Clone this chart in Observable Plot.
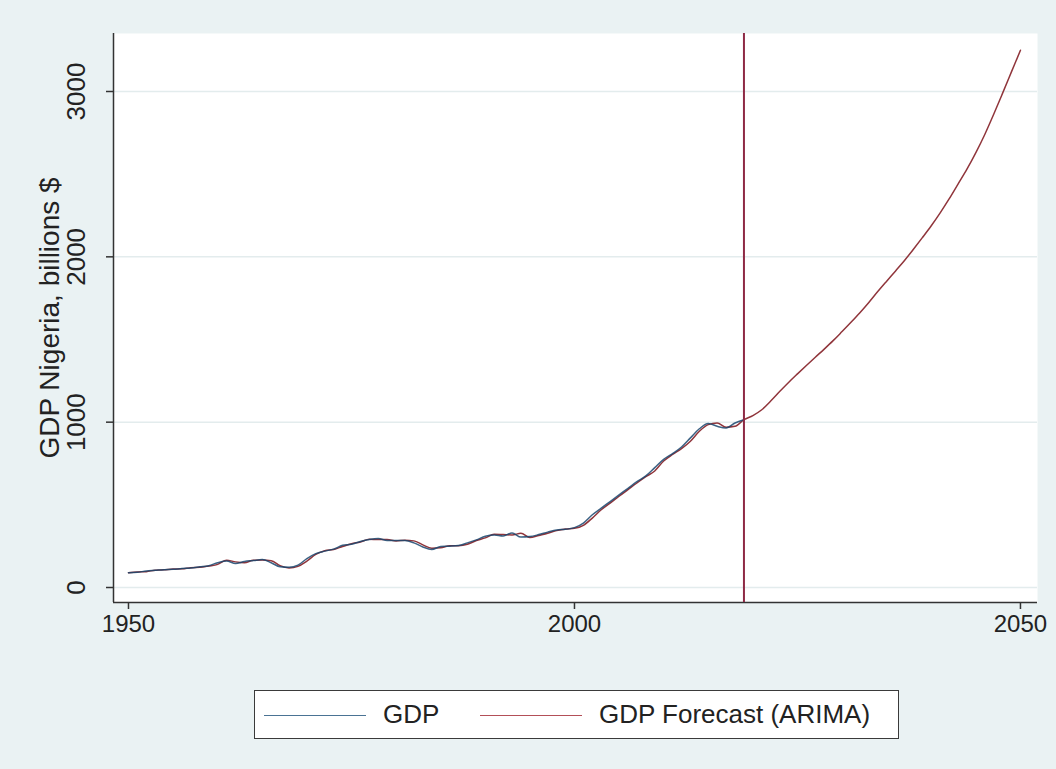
<!DOCTYPE html>
<html>
<head>
<meta charset="utf-8">
<script src="https://cdn.jsdelivr.net/npm/d3@7"></script>
<script src="https://cdn.jsdelivr.net/npm/@observablehq/plot@0.6"></script>
<style>
  html, body { margin: 0; padding: 0; }
  body { width: 1056px; height: 769px; background: #eaf2f3; position: relative; overflow: hidden;
         font-family: "Liberation Sans", Arial, sans-serif; }
  #chart { position: absolute; left: 0; top: 0; }
  #legend { position: absolute; left: 254px; top: 690px; width: 643px; height: 47px;
            background: #fff; border: 1.5px solid #3a3a3a; }
  .sw { position: absolute; top: 24px; height: 0; width: 102px; }
  .lab { position: absolute; top: 8px; font-size: 26px; color: #222; line-height: 30px; white-space: nowrap; }
</style>
</head>
<body>
<div id="chart"></div>
<div id="legend">
  <div class="sw" style="left:9px; border-top:1.6px solid #4a7394;"></div>
  <div class="lab" style="left:128px;">GDP</div>
  <div class="sw" style="left:225px; border-top:1.6px solid #b34f58;"></div>
  <div class="lab" style="left:344px;">GDP Forecast (ARIMA)</div>
</div>
<script>
// ---- data ----
const gdpStartYear = 1950;
const gdpValues = [
  89, 92, 100, 104, 108, 110, 115, 118, 125, 132,        // 1950-1959
  150, 160, 145, 157, 163, 169, 150, 125, 122, 135,      // 1960-1969
  175, 205, 220, 232, 255, 262, 278, 290, 296, 284,      // 1970-1979
  284, 284, 270, 245, 230, 248, 250, 254, 270, 288,      // 1980-1989
  310, 318, 312, 330, 305, 308, 320, 335, 348, 352,      // 1990-1999
  362, 390, 440, 480, 520, 560, 600, 640, 675, 725,      // 2000-2009
  775, 810, 850, 905, 960, 992, 975, 965, 995, 1015      // 2010-2019
];
const forecastStartYear = 1950;
const forecastValues = [
  89, 94, 96, 105, 107, 112, 113, 120, 122, 130,         // 1950-1959
  140, 165, 155, 150, 165, 166, 162, 132, 118, 128,      // 1960-1969
  160, 200, 222, 230, 248, 265, 275, 292, 290, 290,      // 1970-1979
  282, 286, 282, 258, 238, 240, 252, 253, 262, 284,      // 1980-1989
  300, 322, 320, 318, 328, 302, 315, 328, 344, 354,      // 1990-1999
  358, 376, 420, 470, 510, 552, 592, 632, 670, 705,      // 2000-2009
  765, 805, 840, 885, 945, 985, 995, 970, 975, 1015,     // 2010-2019
  1040, 1075, 1128, 1185, 1240, 1292, 1343, 1393, 1442, 1493, // 2020-2029
  1548, 1604, 1662, 1724, 1790, 1853, 1915, 1978, 2046, 2116, // 2030-2039
  2188, 2266, 2350, 2440, 2530, 2630, 2740, 2862, 2990, 3120, // 2040-2049
  3250                                                      // 2050
];
const forecastStartMarker = 2019;
const xTicks = [1950, 2000, 2050];
const yTicks = [0, 1000, 2000, 3000];
const yLabel = "GDP Nigeria, billions $";
const xDomain = [1948.32, 2051.91];
const yDomain = [-90.7, 3350.8];

// ---- tables built from the arrays ----
const gdp = gdpValues.map((v, i) => ({year: gdpStartYear + i, value: v}));
const forecast = forecastValues.map((v, i) => ({year: forecastStartYear + i, value: v}));

const chart = Plot.plot({
  width: 1056,
  height: 660,
  marginLeft: 113,
  marginRight: 19,
  marginTop: 33,
  marginBottom: 58,
  style: {background: "transparent", fontFamily: "'Liberation Sans', Arial, sans-serif", color: "#222"},
  x: {domain: xDomain},
  y: {domain: yDomain},
  marks: [
    Plot.frame({fill: "white", stroke: "none"}),
    Plot.ruleY(yTicks, {stroke: "#e3eced", strokeWidth: 1.5}),
    Plot.ruleX([xDomain[0]], {stroke: "#333", strokeWidth: 1.5}),
    Plot.ruleY([yDomain[0]], {stroke: "#333", strokeWidth: 1.5}),
    Plot.axisX(xTicks, {tickSize: 7, tickPadding: 5, fontSize: 24, label: null, stroke: "#333", strokeWidth: 1.5, fill: "#222", tickFormat: d => String(d)}),
    Plot.axisY(yTicks, {tickSize: 7, tickPadding: 22, tickRotate: -90, fontSize: 26, label: null, stroke: "#333", strokeWidth: 1.5, fill: "#222", tickFormat: d => String(d)}),
    Plot.text([yLabel], {frameAnchor: "left", rotate: -90, dx: -55, lineAnchor: "bottom", textAnchor: "middle", fontSize: 28, fill: "#222"}),
    Plot.line(forecast, {x: "year", y: "value", stroke: "#90353b", strokeWidth: 1.5, curve: "monotone-x"}),
    Plot.line(gdp, {x: "year", y: "value", stroke: "#1a476f", strokeWidth: 1.5, strokeOpacity: 0.85, curve: "monotone-x"}),
    Plot.ruleX([forecastStartMarker], {stroke: "#8e2a45", strokeWidth: 2})
  ]
});
document.getElementById("chart").appendChild(chart);
</script>
</body>
</html>
